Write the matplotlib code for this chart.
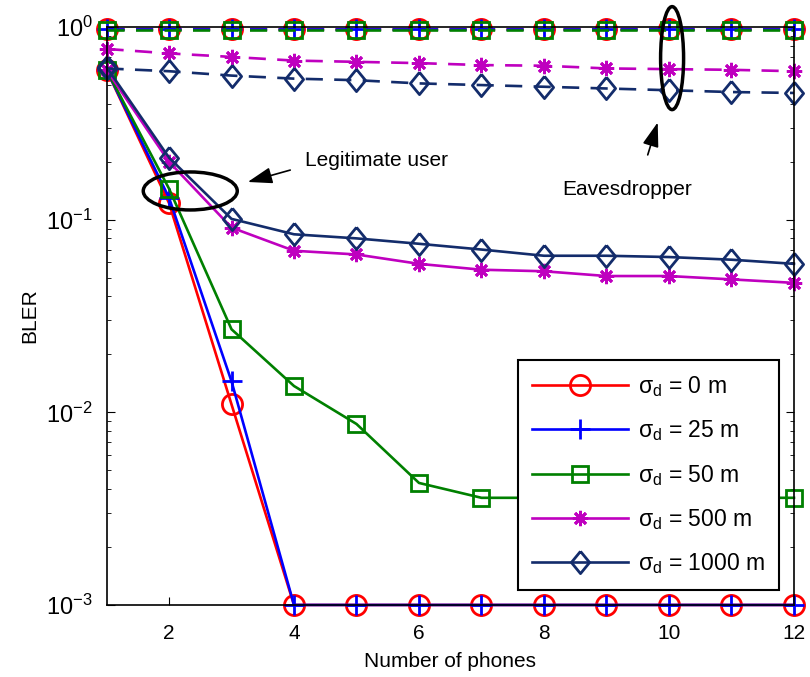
import matplotlib
matplotlib.use("Agg")
import matplotlib.pyplot as plt
from matplotlib.patches import Ellipse
from matplotlib.ticker import FixedLocator, FixedFormatter
import numpy as np

plt.rcParams['font.family'] = ['Liberation Sans', 'DejaVu Sans']
plt.rcParams['mathtext.fontset'] = 'custom'
plt.rcParams['mathtext.rm'] = 'Liberation Sans'
plt.rcParams['mathtext.it'] = 'Liberation Serif'
plt.rcParams['mathtext.default'] = 'regular'

phones = list(range(1, 13))

# Legitimate user BLER
leg_0 = [0.60, 0.122, 0.011, 0.001, 0.001, 0.001, 0.001, 0.001, 0.001, 0.001, 0.001, 0.001]
leg_25 = [0.60, 0.13, 0.0145, 0.001, 0.001, 0.001, 0.001, 0.001, 0.001, 0.001, 0.001, 0.001]
leg_50 = [0.60, 0.145, 0.027, 0.0137, 0.0087, 0.0043, 0.0036, 0.0036, 0.0036, 0.0036, 0.0036, 0.0036]
leg_500 = [0.60, 0.20, 0.091, 0.069, 0.066, 0.059, 0.055, 0.054, 0.051, 0.051, 0.049, 0.047]
leg_1000 = [0.62, 0.21, 0.101, 0.084, 0.080, 0.075, 0.070, 0.065, 0.065, 0.064, 0.062, 0.059]

# Eavesdropper BLER
eve_0 = [0.975] * 12
eve_25 = [0.975] * 12
eve_50 = [0.965] * 12
eve_500 = [0.77, 0.73, 0.70, 0.67, 0.66, 0.65, 0.635, 0.63, 0.61, 0.605, 0.60, 0.59]
eve_1000 = [0.61, 0.59, 0.56, 0.54, 0.53, 0.51, 0.50, 0.49, 0.48, 0.47, 0.46, 0.455]

labels = [r'$\sigma_d$ = 0 m', r'$\sigma_d$ = 25 m', r'$\sigma_d$ = 50 m',
          r'$\sigma_d$ = 500 m', r'$\sigma_d$ = 1000 m']
colors = ['#ff0000', '#0000ff', '#008000', '#bf00bf', '#132c6b']
diamond = [(0, 1), (0.82, 0), (0, -1), (-0.82, 0), (0, 1)]
markers = ['o', '+', 's', (8, 2, 0), diamond]
msizes = [14.5, 14, 11, 11, 16]

fig = plt.figure(figsize=(8.1, 6.77), dpi=100)
ax = fig.add_axes([0.1315, 0.1064, 0.8487, 0.8536])

legs = [leg_0, leg_25, leg_50, leg_500, leg_1000]
eves = [eve_0, eve_25, eve_50, eve_500, eve_1000]
handles = []
for y, c, m, ms, lab in zip(legs, colors, markers, msizes, labels):
    h, = ax.plot(phones, y, color=c, marker=m, markersize=ms, markerfacecolor='none',
                 markeredgewidth=2, linewidth=1.9, label=lab, clip_on=False)
    handles.append(h)
for y, c, m, ms in zip(eves, colors, markers, msizes):
    ax.plot(phones, y, color=c, marker=m, markersize=ms, markerfacecolor='none',
            markeredgewidth=2, linewidth=1.9, linestyle=(0, (6.5, 4.3)), clip_on=False)

ax.set_yscale('log')
ax.set_xlim(1, 12)
ax.set_ylim(1e-3, 1)
ax.set_xticks([2, 4, 6, 8, 10, 12])
ax.yaxis.set_major_locator(FixedLocator([1e-3, 1e-2, 1e-1, 1]))
ax.yaxis.set_major_formatter(FixedFormatter([r'$10^{-3}$', r'$10^{-2}$', r'$10^{-1}$', r'$10^{0}$']))
ax.tick_params(which='both', direction='in', top=True, right=True)
ax.tick_params(axis='x', labelsize=15, pad=14)
ax.tick_params(axis='y', labelsize=17, pad=10)
ax.tick_params(which='major', length=6)
ax.tick_params(which='minor', length=3)
for s in ax.spines.values():
    s.set_linewidth(1.2)
ax.set_xlabel('Number of phones', fontsize=15, labelpad=6)
ax.set_ylabel('BLER', fontsize=15, labelpad=5)

fig.canvas.draw()


def pix_ellipse(xc, yc, w, h):
    px, py = ax.transData.transform((xc, yc))
    fx, fy = fig.transFigure.inverted().transform((px, py))
    e = Ellipse((fx, fy), w / 810, h / 677, transform=fig.transFigure, fill=False,
                edgecolor='black', linewidth=2.5, zorder=10)
    fig.add_artist(e)


pix_ellipse(2.34, 0.141, 94, 38)
pix_ellipse(10.05, 0.69, 23, 103)

arrow = dict(arrowstyle='-|>,head_width=0.5,head_length=1.5', color='black', lw=1.2,
             shrinkA=0, shrinkB=0)
ax.annotate('', xy=(3.26, 0.157), xytext=(3.94, 0.181), arrowprops=arrow)
ax.text(4.18, 0.204, 'Legitimate user', fontsize=15, va='center')
ax.annotate('', xy=(9.82, 0.32), xytext=(9.66, 0.217), arrowprops=arrow)
ax.text(8.30, 0.143, 'Eavesdropper', fontsize=15, va='center')

leg = ax.legend(handles=handles, loc='lower right', fontsize=16.5, frameon=True,
                fancybox=False, edgecolor='black', framealpha=1,
                handlelength=4.2, handletextpad=0.45, labelspacing=0.85,
                borderpad=0.6, borderaxespad=0.65)
leg.get_frame().set_linewidth(1.5)
leg.set_zorder(20)

fig.savefig('out.png', dpi=100)
